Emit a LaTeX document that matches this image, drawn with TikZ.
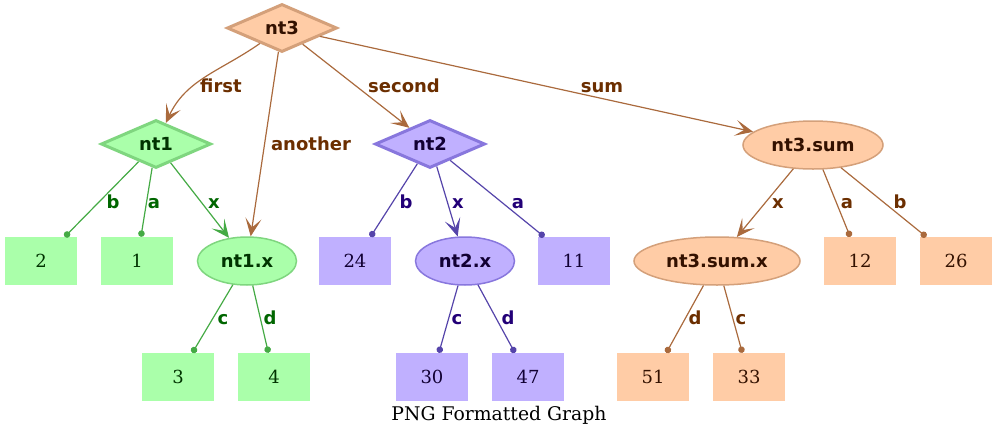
\documentclass[tikz,border=0pt]{standalone}
\usepackage{fontspec}
\setmainfont{DejaVu Serif}
\newfontfamily\dvsans{DejaVu Sans}
\usetikzlibrary{shapes.geometric,arrows.meta}
\definecolor{gFill}{HTML}{AAFFAA}
\definecolor{gBorder}{HTML}{7FD67F}
\definecolor{gEdge}{HTML}{44AA44}
\definecolor{gLab}{HTML}{006600}
\definecolor{gText}{HTML}{003300}
\definecolor{pFill}{HTML}{C0B0FF}
\definecolor{pBorder}{HTML}{8877DD}
\definecolor{pEdge}{HTML}{5544AA}
\definecolor{pLab}{HTML}{220077}
\definecolor{pText}{HTML}{110033}
\definecolor{oFill}{HTML}{FFCCA6}
\definecolor{oBorder}{HTML}{D4A07A}
\definecolor{oEdge}{HTML}{AA6A3D}
\definecolor{oLab}{HTML}{6B2E00}
\definecolor{oText}{HTML}{331100}
\newcommand\mynodefont{\dvsans\bfseries\fontsize{18}{21}\selectfont}
\newcommand\myleaffont{\fontsize{18}{21}\selectfont}
\newcommand\mycapfont{\fontsize{18.8}{22}\selectfont}
\tikzset{
  dia/.style={diamond, line width=3pt, minimum width=110pt, minimum height=48pt, inner sep=0pt, font=\mynodefont},
  ell/.style={ellipse, line width=1.5pt, minimum height=48pt, inner sep=0pt, font=\mynodefont},
  leaf/.style={rectangle, minimum width=72pt, minimum height=48pt, inner sep=0pt, font=\myleaffont},
  lab/.style={anchor=base, inner sep=0pt, font=\mynodefont},
  g/.style={draw=gBorder, fill=gFill, text=gText},
  p/.style={draw=pBorder, fill=pFill, text=pText},
  o/.style={draw=oBorder, fill=oFill, text=oText},
  gl/.style={fill=gFill, text=gText},
  pl/.style={fill=pFill, text=pText},
  ol/.style={fill=oFill, text=oText},
  edge/.style={line width=1.2pt},
  arr/.style={edge, -{Stealth[length=18pt,width=16pt,inset=9pt]}},
  dot/.style={edge, -{Circle[length=6.5pt]}},
}
\begin{document}
\begin{tikzpicture}[x=1pt,y=-1pt]
\useasboundingbox (0,0) rectangle (997,437);
% nodes
\node[dia,o] (nt3) at (282,28) {nt3};
\node[dia,g] (nt1) at (156,144) {nt1};
\node[dia,p] (nt2) at (430,144) {nt2};
\node[ell,o,minimum width=140pt] (nt3sum) at (813,145) {nt3.sum};
\node[ell,g,minimum width=99pt] (nt1x) at (247,261) {nt1.x};
\node[ell,p,minimum width=99pt] (nt2x) at (465,261) {nt2.x};
\node[ell,o,minimum width=166pt] (nt3sumx) at (717,261) {nt3.sum.x};
\node[leaf,gl] (g2) at (41,261) {2};
\node[leaf,gl] (g1) at (137,261) {1};
\node[leaf,gl] (g3) at (178,377) {3};
\node[leaf,gl] (g4) at (274,377) {4};
\node[leaf,pl] (p24) at (355,261) {24};
\node[leaf,pl] (p11) at (574,261) {11};
\node[leaf,pl] (p30) at (432,377) {30};
\node[leaf,pl] (p47) at (528,377) {47};
\node[leaf,ol] (o12) at (860,261) {12};
\node[leaf,ol] (o26) at (956,261) {26};
\node[leaf,ol] (o51) at (653,377) {51};
\node[leaf,ol] (o33) at (749,377) {33};
\node[font=\mycapfont, inner sep=0pt, anchor=base] (caption) at (499,420) {PNG Formatted Graph};
% edges
\begin{scope}[draw=oEdge, oEdge]
\draw[arr] (nt3) to[out=215,in=65] (nt1);
\draw[arr] (nt3) -- (nt1x);
\draw[arr] (nt3) -- (nt2);
\draw[arr] (nt3) -- (nt3sum);
\draw[arr] (nt3sum) -- (nt3sumx);
\draw[dot] (nt3sum) -- (o12);
\draw[dot] (nt3sum) -- (o26);
\draw[dot] (nt3sumx) -- (o51);
\draw[dot] (nt3sumx) -- (o33);
\end{scope}
\begin{scope}[draw=gEdge, gEdge]
\draw[dot] (nt1) -- (g2);
\draw[dot] (nt1) -- (g1);
\draw[arr] (nt1) -- (nt1x);
\draw[dot] (nt1x) -- (g3);
\draw[dot] (nt1x) -- (g4);
\end{scope}
\begin{scope}[draw=pEdge, pEdge]
\draw[dot] (nt2) -- (p24);
\draw[arr] (nt2) -- (nt2x);
\draw[dot] (nt2) -- (p11);
\draw[dot] (nt2x) -- (p30);
\draw[dot] (nt2x) -- (p47);
\end{scope}
% labels
\node[lab,text=oLab] (lfirst) at (221,92) {first};
\node[lab,text=oLab] (lanother) at (311,150) {another};
\node[lab,text=oLab] (lsecond) at (404,92) {second};
\node[lab,text=oLab] (lsum) at (602,92) {sum};
\node[lab,text=gLab] (l1b) at (113,208) {b};
\node[lab,text=gLab] (l1a) at (154,208) {a};
\node[lab,text=gLab] (l1x) at (214,208) {x};
\node[lab,text=gLab] (l1c) at (223,324) {c};
\node[lab,text=gLab] (l1d) at (270,324) {d};
\node[lab,text=pLab] (l2b) at (406,208) {b};
\node[lab,text=pLab] (l2x) at (458,208) {x};
\node[lab,text=pLab] (l2a) at (518,208) {a};
\node[lab,text=pLab] (l2c) at (457,324) {c};
\node[lab,text=pLab] (l2d) at (508,324) {d};
\node[lab,text=oLab] (l3x) at (778,208) {x};
\node[lab,text=oLab] (l3a) at (847,208) {a};
\node[lab,text=oLab] (l3b) at (900,208) {b};
\node[lab,text=oLab] (l3d) at (695,324) {d};
\node[lab,text=oLab] (l3c) at (741,324) {c};
\end{tikzpicture}
\end{document}
